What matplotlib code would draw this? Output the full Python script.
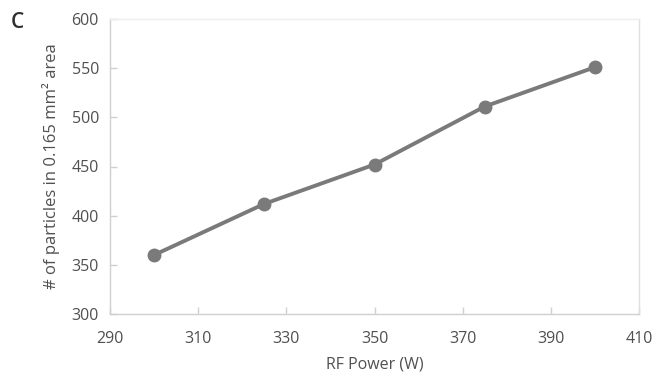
import matplotlib.pyplot as plt

plt.rcParams['font.family'] = ['Open Sans', 'DejaVu Sans']

rf_power = [300, 325, 350, 375, 400]
particles = [360, 412, 452, 511, 551]
x_ticks = [290, 310, 330, 350, 370, 390, 410]
y_ticks = [300, 350, 400, 450, 500, 550, 600]

text_gray = '#505050'
frame_gray = '#d0d0d0'

fig = plt.figure(figsize=(6.56, 3.84), dpi=100)
ax = fig.add_axes([110 / 656, 1 - 314 / 384, 529 / 656, 295 / 384])

ax.plot(rf_power, particles, color='#7a7a7a', lw=2.8, marker='o', ms=9,
        solid_capstyle='round')

ax.set_xlim(290, 410)
ax.set_ylim(300, 600)
ax.set_xticks(x_ticks)
ax.set_yticks(y_ticks)
ax.tick_params(direction='in', length=5, width=1, color=frame_gray,
               labelcolor=text_gray, labelsize=11.5, pad=8)
ax.tick_params(axis='x', pad=12)
for side in ['top', 'right', 'left', 'bottom']:
    ax.spines[side].set_color(frame_gray)
    ax.spines[side].set_linewidth(1)
ax.spines['top'].set_color('#eeeeee')
ax.spines['right'].set_color('#e0e0e0')

ax.set_xlabel('RF Power (W)', color=text_gray, fontsize=11.5, labelpad=7)
ax.set_ylabel('# of particles in 0.165 mm² area', color=text_gray,
              fontsize=12, labelpad=8)

fig.text(11 / 656, 1 - 22 / 384, 'C', fontsize=15, fontweight='semibold',
         color='#303030', va='center', ha='left')

fig.savefig('out.png', dpi=100)
